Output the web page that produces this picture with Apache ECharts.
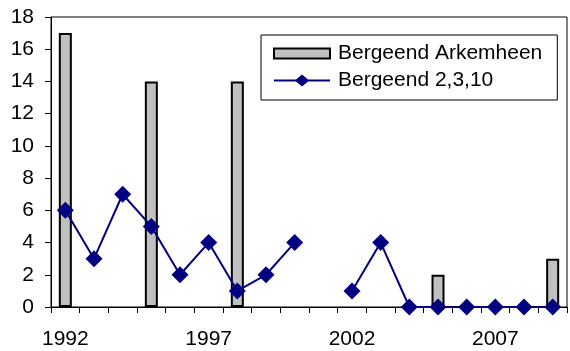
<!DOCTYPE html>
<html>
<head>
<meta charset="utf-8">
<script src="https://cdn.jsdelivr.net/npm/echarts@6/dist/echarts.min.js"></script>
<style>
  html, body { margin: 0; padding: 0; background: #fff; }
  #chart { width: 570px; height: 351px; }
</style>
</head>
<body>
<div id="chart"></div>
<script>
// Yearly counts of Bergeend (common shelduck)
const years = ['1992','1993','1994','1995','1996','1997','1998','1999','2000',
               '2001','2002','2003','2004','2005','2006','2007','2008','2009'];
const arkemheen = [17, null, null, 14, null, null, 14, null, null,
                   null, null, null, null, 2, null, null, null, 3];
const plots2310 = [6, 3, 7, 5, 2, 4, 1, 2, 4,
                   null, 1, 4, 0, 0, 0, 0, 0, 0];
const yTicks = { min: 0, max: 18, step: 2 };

const font = '"Liberation Sans", Arial, sans-serif';
const chart = echarts.init(document.getElementById('chart'), null, { renderer: 'canvas' });

// legend icons: a flat box for the bars, a line with a diamond for the line series
const barIcon = 'path://M0,1H56V11H0Z';
const lineIcon = 'path://M0,5H22L28,0L34,5H56V7H34L28,12L22,7H0Z';

chart.setOption({
  animation: false,
  backgroundColor: '#fff',
  textStyle: { fontFamily: font },
  grid: {
    left: 51, right: 3, top: 17, bottom: 44,
    show: true, borderColor: '#000', borderWidth: 1, backgroundColor: 'transparent'
  },
  legend: {
    orient: 'vertical',
    left: 261, top: 35,
    padding: [8, 15, 9, 12],
    itemGap: 6,
    itemWidth: 56, itemHeight: 12,
    backgroundColor: '#fff',
    borderColor: '#000', borderWidth: 1,
    textStyle: { fontSize: 21, color: '#000', fontFamily: font, padding: [0, 0, 0, 3] },
    data: [
      { name: 'Bergeend Arkemheen', icon: barIcon },
      { name: 'Bergeend 2,3,10', icon: lineIcon, itemStyle: { color: '#000080', borderWidth: 0 } }
    ]
  },
  xAxis: {
    type: 'category',
    data: years,
    boundaryGap: true,
    axisLine: { lineStyle: { color: '#000', width: 1 } },
    axisTick: { show: true, interval: 0, length: 6, lineStyle: { color: '#000' } },
    axisLabel: { interval: 4, fontSize: 21, color: '#000', margin: 22, fontFamily: font },
    splitLine: { show: false }
  },
  yAxis: {
    type: 'value',
    min: yTicks.min, max: yTicks.max, interval: yTicks.step,
    axisLine: { show: true, lineStyle: { color: '#000', width: 1 } },
    axisTick: { show: true, length: 6, lineStyle: { color: '#000' } },
    axisLabel: { fontSize: 21, color: '#000', margin: 17, fontFamily: font },
    splitLine: { show: false }
  },
  series: [
    {
      name: 'Bergeend Arkemheen',
      type: 'bar',
      data: arkemheen,
      barWidth: 13,
      itemStyle: { color: '#c0c0c0', borderColor: '#000', borderWidth: 2 },
      z: 2
    },
    {
      name: 'Bergeend 2,3,10',
      type: 'line',
      data: plots2310,
      connectNulls: false,
      symbol: 'diamond',
      symbolSize: 17,
      showAllSymbol: true,
      lineStyle: { color: '#000080', width: 2 },
      itemStyle: { color: '#000080' },
      z: 3
    }
  ]
});
</script>
</body>
</html>
